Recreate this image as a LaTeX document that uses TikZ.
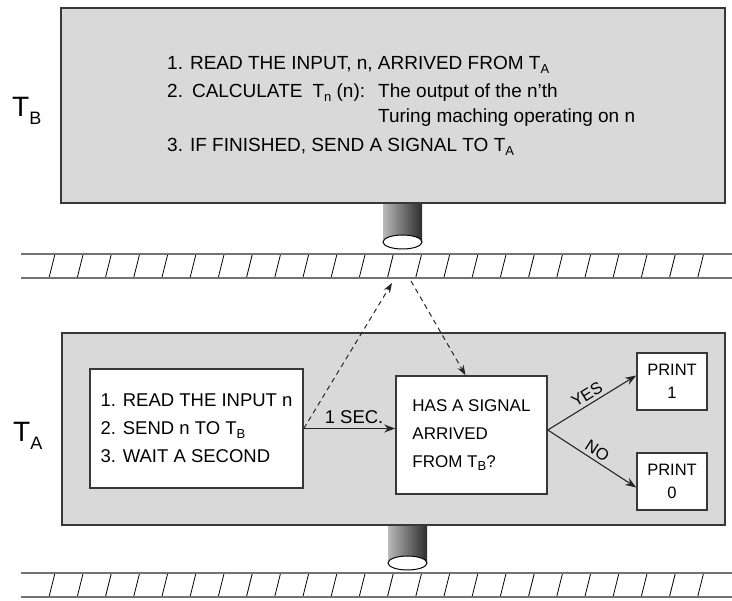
\documentclass[tikz,border=0pt]{standalone}
\usepackage{fontspec}
\setmainfont{Liberation Sans}
\usetikzlibrary{arrows.meta}
\newcommand{\lowsub}[1]{\raisebox{-0.35ex}{\fontsize{13}{13}\selectfont #1}}
\newcommand{\bodyFont}{\fontsize{18.5}{28}\selectfont}
\newcommand{\topFont}{\fontsize{19}{28}\selectfont}
\newcommand{\askFont}{\fontsize{17}{28}\selectfont}
\newcommand{\printFont}{\fontsize{16.5}{23}\selectfont}
\newcommand{\hatchStep}{28.2}
\definecolor{panelgray}{gray}{0.85}
\definecolor{edgegray}{gray}{0.22}
\definecolor{tapegray}{gray}{0.45}

\tikzset{
  panel/.style={draw=edgegray, line width=2pt, fill=panelgray, inner sep=0pt},
  whitebox/.style={draw=edgegray, line width=1.6pt, fill=white, align=left, inner sep=0pt},
  steptext/.style={anchor=base west, inner sep=0pt, font=\topFont},
  tapename/.style={anchor=base west, inner sep=0pt, font=\fontsize{28}{28}\selectfont},
  tapeline/.style={draw=tapegray, line width=2.4pt},
  flow/.style={line width=1.1pt, draw=black!85, -{Stealth[length=11pt,width=8pt]}},
  signal/.style={line width=1pt, draw=black!85, dash pattern=on 5pt off 4pt, -{Stealth[length=10pt,width=7pt]}}
}

% tape with slanted hatches, #1 = top edge
\newcommand{\drawTape}[1]{%
  \foreach \k in {0,...,23}
    \draw[line width=0.8pt] ({49+\hatchStep*\k},#1+24) -- ({55+\hatchStep*\k},#1);
  \draw[tapeline] (21,#1) -- (732,#1);
  \draw[tapeline] (21,#1+24) -- (732,#1+24);
}
% read/write head below a panel
\newcommand{\drawPeg}[3]{%
  \shade[left color=gray!55, middle color=white, right color=gray!35!black]
    (#1-19.5,#2) rectangle (#1+19.5,#3);
  \draw[line width=1pt, fill=white] (#1,#3) ellipse [x radius=19.5, y radius=7];
}

\begin{document}
\begin{tikzpicture}[x=1pt, y=-1pt, font=\bodyFont]
\useasboundingbox (0,0) rectangle (732,601);

\drawTape{254}
\drawTape{573}
\drawPeg{402.5}{203}{242}
\drawPeg{407.5}{525}{563}

% machine T_B
\node[panel, minimum width=664, minimum height=195] (tb) at (393,105.5) {};
\node[tapename] (tbName) at (12,117) {T\raisebox{-8pt}{\fontsize{18}{18}\selectfont B}};
\node[steptext] (stepRead) at (167,70) {1. READ THE INPUT, n, ARRIVED FROM T\lowsub{A}};
\node[steptext] (stepCalc) at (167,98) {2.\hspace{9pt}CALCULATE\hspace{10pt}T\lowsub{n} (n):};
\node[steptext] (calcNote) at (378,98) {The output of the n'th};
\node[steptext] (calcNoteB) at (378,123) {Turing maching operating on n};
\node[steptext] (stepSignal) at (167,152) {3. IF FINISHED, SEND A SIGNAL TO T\lowsub{A}};

% machine T_A
\node[panel, minimum width=663, minimum height=192] (ta) at (393.5,429) {};
\node[tapename] (taName) at (13,442) {T\raisebox{-8pt}{\fontsize{18}{18}\selectfont A}};
\node[whitebox, minimum width=213, minimum height=119] (readBox) at (196.5,428.5)
  {1. READ THE INPUT n\\2. SEND n TO T\lowsub{B}\\3. WAIT A SECOND};
\node[whitebox, font=\askFont, minimum width=151, minimum height=118] (signalBox) at (471.5,435)
  {HAS A SIGNAL\\ARRIVED\\FROM T\lowsub{B}?};
\node[whitebox, align=center, font=\printFont, minimum width=70, minimum height=57] (printOne) at (672,381.5) {PRINT\\1};
\node[whitebox, align=center, font=\printFont, minimum width=70, minimum height=57] (printZero) at (672,481.5) {PRINT\\0};

\coordinate (tapeIn) at (392,283);
\coordinate (tapeOut) at (411,281);

\draw[flow] (readBox.east) -- node[above=1pt, pos=0.55] (secLabel) {1 SEC.} (readBox.east -| signalBox.west);
\draw[flow] ([yshift=5pt]signalBox.east) -- node[sloped, above, font=\printFont] (yesLabel) {YES} ([yshift=6pt]printOne.west);
\draw[flow] ([yshift=5pt]signalBox.east) -- node[sloped, above, font=\printFont] (noLabel) {NO} ([yshift=-6pt]printZero.west);
\draw[signal] (readBox.east) -- (tapeIn);
\draw[signal] (tapeOut) -- ([xshift=-6pt]signalBox.north);
\end{tikzpicture}
\end{document}
